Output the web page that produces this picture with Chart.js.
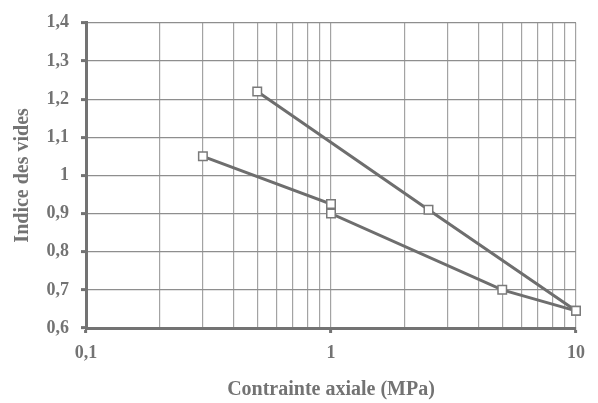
<!DOCTYPE html>
<html>
<head>
<meta charset="utf-8">
<script src="https://cdn.jsdelivr.net/npm/chart.js@4"></script>
<style>
  body { margin: 0; background: #fff; }
</style>
</head>
<body>
<canvas id="voidChart" width="598" height="403"></canvas>
<script>
        // Data
        const loadX = [0.3, 1, 1, 5, 10];
        const loadY = [1.05, 0.925, 0.90, 0.70, 0.645];
        const unloadX = [0.5, 2.5, 10];
        const unloadY = [1.22, 0.91, 0.645];

        // Axis ticks
        const xGridTicks = [0.1, 0.2, 0.3, 0.4, 0.5, 0.6, 0.7, 0.8, 0.9, 1, 2, 3, 4, 5, 6, 7, 8, 9, 10];
        const xLabelTicks = [0.1, 1, 10];
        const yTicks = [0.6, 0.7, 0.8, 0.9, 1, 1.1, 1.2, 1.3, 1.4];

        const gray = '#737373';
        const frFormat = v => String(Number(v.toFixed(1))).replace('.', ',');
        const tickFont = { family: 'Liberation Serif', size: 18, weight: 'bold' };
        const titleFont = { family: 'Liberation Serif', size: 20, weight: 'bold' };

        const toPoints = (xs, ys) => xs.map((x, i) => ({ x: x, y: ys[i] }));

        const lineStyle = {
            borderColor: '#6e6e6e',
            borderWidth: 3,
            fill: false,
            tension: 0,
            clip: false,
            pointStyle: 'rect',
            pointRadius: 6,
            pointBackgroundColor: '#fff',
            pointBorderColor: '#7a7a7a',
            pointBorderWidth: 1.5
        };

        const ctx = document.getElementById('voidChart').getContext('2d');

        new Chart(ctx, {
            type: 'line',
            data: {
                datasets: [
                    Object.assign({ label: 'Chargement', data: toPoints(loadX, loadY) }, lineStyle),
                    Object.assign({ label: 'Déchargement', data: toPoints(unloadX, unloadY) }, lineStyle)
                ]
            },
            options: {
                responsive: false,
                animation: false,
                layout: { padding: { top: 20, right: 22, left: 0, bottom: 0 } },
                plugins: {
                    legend: { display: false },
                    tooltip: { enabled: false }
                },
                scales: {
                    x: {
                        type: 'logarithmic',
                        min: 0.1,
                        max: 10,
                        afterBuildTicks: scale => {
                            scale.ticks = xGridTicks.map(v => ({ value: v, major: xLabelTicks.includes(v) }));
                        },
                        afterFit: scale => { scale.height = 75; },
                        border: { color: gray, width: 3 },
                        grid: {
                            color: '#a3a3a3',
                            lineWidth: 1.2,
                            drawTicks: true,
                            tickLength: 5,
                            tickWidth: 3,
                            tickColor: c => xLabelTicks.includes(c.tick.value) ? gray : 'rgba(0,0,0,0)'
                        },
                        ticks: {
                            autoSkip: false,
                            maxRotation: 0,
                            padding: 10,
                            color: gray,
                            font: tickFont,
                            callback: function (value) {
                                return xLabelTicks.includes(value) ? frFormat(value) : '';
                            }
                        },
                        title: {
                            display: true,
                            text: 'Contrainte axiale (MPa)',
                            color: gray,
                            font: titleFont,
                            padding: { top: 0, bottom: 1 }
                        }
                    },
                    y: {
                        min: 0.6,
                        max: 1.4,
                        afterBuildTicks: scale => {
                            scale.ticks = yTicks.map(v => ({ value: v }));
                        },
                        afterFit: scale => { scale.width = 86; },
                        border: { color: gray, width: 3 },
                        grid: {
                            color: '#8e8e8e',
                            lineWidth: 1.2,
                            drawTicks: true,
                            tickLength: 5,
                            tickWidth: 3,
                            tickColor: gray
                        },
                        ticks: {
                            padding: 12,
                            color: gray,
                            font: tickFont,
                            callback: value => frFormat(value)
                        },
                        title: {
                            display: true,
                            text: 'Indice des vides',
                            color: gray,
                            font: titleFont,
                            padding: { top: 11, bottom: 0 }
                        }
                    }
                }
            }
        });
</script>
</body>
</html>
